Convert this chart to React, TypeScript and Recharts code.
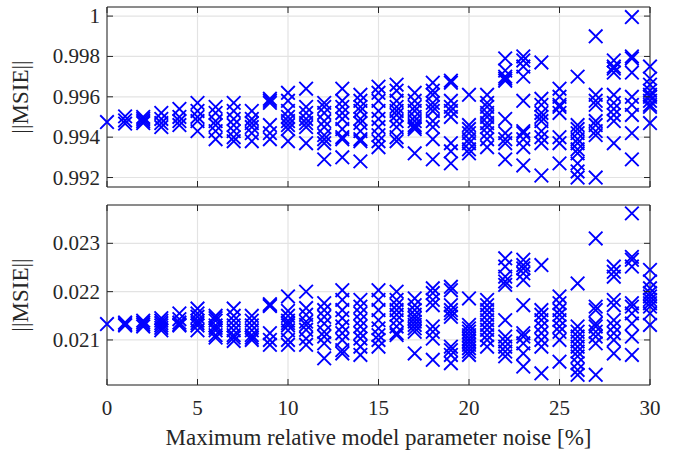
import React from "react";
import {
  ScatterChart,
  Scatter,
  XAxis,
  YAxis,
  CartesianGrid,
  ReferenceLine,
} from "recharts";

// noise levels [%] on the x axis
const NOISE_LEVELS = [
  0, 1, 2, 3, 4, 5, 6, 7, 8, 9, 10, 11, 12, 13, 14, 15, 16, 17, 18, 19, 20,
  21, 22, 23, 24, 25, 26, 27, 28, 29, 30,
];

// upper panel, one list of runs per noise level
const TOP_MSIE = [
  [0.99475],
  [0.99503, 0.99483, 0.99467],
  [0.995, 0.9949, 0.9948, 0.9947],
  [0.9952, 0.9949, 0.9947, 0.9945],
  [0.9954, 0.995, 0.9948, 0.9946],
  [0.9957, 0.9953, 0.995, 0.9948, 0.9943],
  [0.9955, 0.9952, 0.9948, 0.9946, 0.9943, 0.9939],
  [0.9957, 0.9953, 0.9949, 0.9946, 0.9943, 0.994, 0.9938],
  [0.9953, 0.9949, 0.9947, 0.9945, 0.9942, 0.9938],
  [0.9959, 0.9958, 0.9957, 0.9946, 0.9942, 0.9939],
  [0.9962, 0.9958, 0.9953, 0.995, 0.9948, 0.9946, 0.9944, 0.9938],
  [0.9964, 0.9955, 0.9952, 0.9949, 0.9947, 0.9945, 0.9937],
  [0.9957, 0.9955, 0.9952, 0.9948, 0.9945, 0.9941, 0.9939, 0.9937, 0.9929],
  [0.9964, 0.9958, 0.9955, 0.9952, 0.9949, 0.9944, 0.994, 0.9939, 0.993],
  [0.9961, 0.9958, 0.9955, 0.9953, 0.9949, 0.9947, 0.9943, 0.9939, 0.9938, 0.9928],
  [0.9965, 0.9962, 0.9958, 0.9953, 0.9949, 0.9945, 0.9941, 0.9938, 0.9935],
  [0.9966, 0.9963, 0.9958, 0.9955, 0.9953, 0.9951, 0.9948, 0.9945, 0.994, 0.9938],
  [0.9962, 0.9958, 0.9955, 0.9953, 0.995, 0.9948, 0.9946, 0.9945, 0.9944, 0.9932],
  [0.9967, 0.9963, 0.9961, 0.9957, 0.9955, 0.9953, 0.9948, 0.9945, 0.9939, 0.9929],
  [0.9968, 0.9967, 0.9958, 0.9955, 0.9953, 0.995, 0.9937, 0.9933, 0.9927],
  [0.9961, 0.9946, 0.9944, 0.9942, 0.9939, 0.9937, 0.9934, 0.9932],
  [0.9961, 0.9957, 0.9955, 0.9952, 0.995, 0.9947, 0.9945, 0.9942, 0.9939, 0.9935],
  [0.9979, 0.9973, 0.997, 0.9969, 0.9968, 0.9949, 0.9942, 0.9939, 0.9937, 0.9929],
  [0.998, 0.9978, 0.9975, 0.997, 0.9958, 0.9943, 0.9942, 0.9939, 0.9935, 0.9926],
  [0.9977, 0.9959, 0.9956, 0.9952, 0.995, 0.9948, 0.9943, 0.994, 0.9937, 0.9921],
  [0.9964, 0.996, 0.9956, 0.9955, 0.9952, 0.994, 0.9937, 0.9927],
  [0.997, 0.9946, 0.9944, 0.9942, 0.9939, 0.9937, 0.9934, 0.9932, 0.9927, 0.9923, 0.992],
  [0.999, 0.9961, 0.9958, 0.9956, 0.9948, 0.9946, 0.9943, 0.9941, 0.992],
  [0.9978, 0.9975, 0.9974, 0.9972, 0.9961, 0.9957, 0.9954, 0.9951, 0.9948, 0.9937],
  [0.99995, 0.998, 0.9979, 0.9972, 0.996, 0.9956, 0.9951, 0.9942, 0.9929],
  [0.9975, 0.9969, 0.9966, 0.9963, 0.9961, 0.996, 0.9958, 0.9956, 0.9955, 0.9947],
];

// lower panel, one list of runs per noise level
const BOTTOM_MSIE = [
  [0.02133],
  [0.02136, 0.02133, 0.0213],
  [0.0214, 0.02136, 0.02132, 0.02128],
  [0.02145, 0.0214, 0.02135, 0.0213, 0.02125, 0.0212],
  [0.02155, 0.02143, 0.02136, 0.02132, 0.0213],
  [0.02165, 0.02155, 0.02148, 0.0214, 0.02135, 0.0213, 0.0212],
  [0.0215, 0.02145, 0.0214, 0.0213, 0.02125, 0.0212, 0.0211, 0.02105],
  [0.02165, 0.0215, 0.0214, 0.0213, 0.0212, 0.0211, 0.02105, 0.02098],
  [0.0215, 0.0214, 0.0213, 0.0212, 0.0211, 0.02105, 0.021],
  [0.02174, 0.02172, 0.0217, 0.02114, 0.021, 0.0209],
  [0.0219, 0.0216, 0.0215, 0.0214, 0.02135, 0.0213, 0.0212, 0.021, 0.0209],
  [0.022, 0.02166, 0.02152, 0.02138, 0.02131, 0.02121, 0.02103, 0.0209],
  [0.02176, 0.02162, 0.02148, 0.02134, 0.02117, 0.02107, 0.02093, 0.02062],
  [0.02203, 0.02183, 0.02162, 0.02145, 0.02128, 0.02114, 0.021, 0.02079, 0.02072],
  [0.02183, 0.02169, 0.02155, 0.02141, 0.02128, 0.02114, 0.02103, 0.02086, 0.02069],
  [0.02203, 0.02183, 0.02162, 0.02141, 0.02124, 0.0211, 0.021, 0.02086],
  [0.022, 0.02183, 0.02172, 0.02162, 0.02152, 0.02141, 0.02128, 0.02114, 0.0211],
  [0.02186, 0.02172, 0.02162, 0.02152, 0.02145, 0.02138, 0.02131, 0.02124, 0.02117, 0.02072],
  [0.02207, 0.02197, 0.02183, 0.02172, 0.02128, 0.02117, 0.02103, 0.02059],
  [0.0221, 0.02203, 0.02172, 0.02162, 0.02155, 0.02148, 0.02086, 0.02079, 0.02069, 0.02052],
  [0.02186, 0.02131, 0.02124, 0.02117, 0.0211, 0.02103, 0.02097, 0.0209, 0.02083, 0.02076, 0.02069],
  [0.02183, 0.02172, 0.02162, 0.02152, 0.02141, 0.02131, 0.02121, 0.0211, 0.021, 0.02086],
  [0.02269, 0.02252, 0.02231, 0.02221, 0.02214, 0.02141, 0.02107, 0.02097, 0.02086, 0.02076, 0.02066],
  [0.02266, 0.02255, 0.02248, 0.02238, 0.02224, 0.02172, 0.02114, 0.02107, 0.02093, 0.02072, 0.02045],
  [0.02255, 0.02162, 0.02152, 0.02141, 0.02128, 0.02114, 0.021, 0.02086, 0.02031],
  [0.0219, 0.02176, 0.02162, 0.02152, 0.02141, 0.02128, 0.02117, 0.021, 0.02055],
  [0.02217, 0.02128, 0.02117, 0.02107, 0.02097, 0.02086, 0.02076, 0.02066, 0.02052, 0.02038, 0.02028],
  [0.0231, 0.02169, 0.02162, 0.02134, 0.02128, 0.02117, 0.02107, 0.02093, 0.02028],
  [0.02252, 0.02241, 0.02231, 0.02183, 0.02172, 0.02141, 0.02128, 0.02114, 0.021, 0.02072],
  [0.02362, 0.02272, 0.02266, 0.02252, 0.02176, 0.02169, 0.02155, 0.02134, 0.02107, 0.02069],
  [0.02245, 0.02221, 0.02207, 0.02197, 0.0219, 0.02183, 0.02176, 0.02169, 0.02155, 0.02131],
];

const X_TICKS = [0, 5, 10, 15, 20, 25, 30];
const TOP_TICKS = [0.992, 0.994, 0.996, 0.998, 1];
const BOTTOM_TICKS = [0.021, 0.022, 0.023];

const X_LABEL = "Maximum relative model parameter noise [%]";
const Y_LABEL = "||MSIE||";

const W = 673;
const PLOT_LEFT = 107;
const PLOT_RIGHT = 650;
const TICK_LEN = 6;
const AXIS_COLOR = "#262626";
const GRID_COLOR = "#e3e3e3";
const BLUE = "#0000ff";
const FONT = "'Liberation Serif', 'Times New Roman', serif";

const toPoints = (lists: number[][]) =>
  lists.flatMap((vals, i) => vals.map((v) => ({ x: NOISE_LEVELS[i], y: v })));

const topData = toPoints(TOP_MSIE);
const bottomData = toPoints(BOTTOM_MSIE);

function Cross(props: any) {
  const { cx, cy } = props;
  if (cx == null || cy == null) return null;
  const s = 6.8;
  return (
    <path
      d={`M${cx - s},${cy - s}L${cx + s},${cy + s}M${cx - s},${cy + s}L${cx + s},${cy - s}`}
      stroke={BLUE}
      strokeWidth={1.9}
      fill="none"
    />
  );
}

const fmtY = (v: number) => (v === 1 ? "1" : v.toFixed(3));

function makeYTick() {
  return (props: any) => {
    const { y, payload } = props;
    return (
      <g>
        <line x1={PLOT_LEFT} x2={PLOT_LEFT + TICK_LEN} y1={y} y2={y} stroke={AXIS_COLOR} />
        <line x1={PLOT_RIGHT - TICK_LEN} x2={PLOT_RIGHT} y1={y} y2={y} stroke={AXIS_COLOR} />
        <text
          x={PLOT_LEFT - 7}
          y={y}
          textAnchor="end"
          dominantBaseline="central"
          fill={AXIS_COLOR}
          fontSize={21}
          fontFamily={FONT}
        >
          {fmtY(payload.value)}
        </text>
      </g>
    );
  };
}

function makeXTick(top: number, bottom: number, showLabel: boolean) {
  return (props: any) => {
    const { x, payload } = props;
    return (
      <g>
        <line x1={x} x2={x} y1={bottom} y2={bottom - TICK_LEN} stroke={AXIS_COLOR} />
        <line x1={x} x2={x} y1={top} y2={top + TICK_LEN} stroke={AXIS_COLOR} />
        {showLabel && (
          <text
            x={x}
            y={bottom + 23}
            textAnchor="middle"
            dominantBaseline="central"
            fill={AXIS_COLOR}
            fontSize={21}
            fontFamily={FONT}
          >
            {payload.value}
          </text>
        )}
      </g>
    );
  };
}

function yLabel(props: any) {
  const vb = props.viewBox;
  const cx = 20;
  const cy = vb.y + vb.height / 2;
  return (
    <text
      x={cx}
      y={cy}
      transform={`rotate(-90 ${cx} ${cy})`}
      textAnchor="middle"
      dominantBaseline="central"
      fill={AXIS_COLOR}
      fontSize={23}
      fontFamily={FONT}
    >
      {Y_LABEL}
    </text>
  );
}

function xLabel(props: any) {
  const vb = props.viewBox;
  return (
    <text
      x={(PLOT_LEFT + PLOT_RIGHT) / 2}
      y={vb.y + 52}
      textAnchor="middle"
      dominantBaseline="central"
      fill={AXIS_COLOR}
      fontSize={23}
      fontFamily={FONT}
    >
      {X_LABEL}
    </text>
  );
}

interface PanelProps {
  data: { x: number; y: number }[];
  domain: [number, number];
  ticks: number[];
  top: number;
  height: number;
  xAxisHeight: number;
  showXLabels: boolean;
}

function Panel({ data, domain, ticks, top, height, xAxisHeight, showXLabels }: PanelProps) {
  const plotBottom = height - xAxisHeight;
  return (
    <div style={{ position: "absolute", left: 0, top: 0 }}>
      <ScatterChart
        width={W}
        height={height}
        margin={{ top, right: W - PLOT_RIGHT, bottom: 0, left: 0 }}
      >
        <CartesianGrid stroke={GRID_COLOR} strokeWidth={1.2} />
        <XAxis
          type="number"
          dataKey="x"
          domain={[0, 30]}
          ticks={X_TICKS}
          height={xAxisHeight}
          axisLine={{ stroke: AXIS_COLOR }}
          tickLine={false}
          tickSize={0}
          tick={makeXTick(top, plotBottom, showXLabels)}
          interval={0}
          label={showXLabels ? xLabel : undefined}
        />
        <YAxis
          type="number"
          dataKey="y"
          domain={domain}
          ticks={ticks}
          width={PLOT_LEFT}
          allowDataOverflow
          axisLine={{ stroke: AXIS_COLOR }}
          tickLine={false}
          tickSize={0}
          tick={makeYTick()}
          interval={0}
          label={yLabel}
        />
        <ReferenceLine y={domain[1]} stroke={AXIS_COLOR} />
        <ReferenceLine x={30} stroke={AXIS_COLOR} />
        <Scatter data={data} shape={Cross} isAnimationActive={false} />
      </ScatterChart>
    </div>
  );
}

export default function App() {
  return (
    <div
      style={{
        position: "absolute",
        left: 0,
        top: 0,
        width: W,
        height: 453,
        background: "#fff",
        overflow: "hidden",
      }}
    >
      <Panel
        data={bottomData}
        domain={[0.020068, 0.023793]}
        ticks={BOTTOM_TICKS}
        top={205}
        height={453}
        xAxisHeight={68}
        showXLabels
      />
      <Panel
        data={topData}
        domain={[0.99153, 1.00045]}
        ticks={TOP_TICKS}
        top={7}
        height={200}
        xAxisHeight={13}
        showXLabels={false}
      />
    </div>
  );
}
